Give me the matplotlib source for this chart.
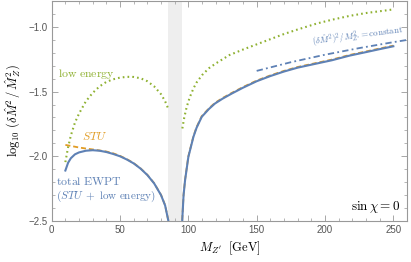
import numpy as np
import matplotlib
matplotlib.use("Agg")
import matplotlib.pyplot as plt
from matplotlib.ticker import MultipleLocator

plt.rcParams['font.family'] = ['Liberation Sans', 'DejaVu Sans']
plt.rcParams['mathtext.fontset'] = 'cm'

# values
# total EWPT (blue), two branches left/right of the Z pole
blue_x1 = [10, 12, 14, 17, 20, 25, 30, 35, 40, 45, 50, 55, 60, 65, 70, 75, 80, 83, 85.4, 86]
blue_y1 = [-2.11, -2.05, -2.015, -1.985, -1.97, -1.957, -1.953, -1.957, -1.967, -1.982,
           -2.0, -2.025, -2.055, -2.095, -2.145, -2.21, -2.3, -2.38, -2.5, -2.55]
blue_x2 = [95.3, 95.6, 96.5, 97.6, 100, 103.7, 106, 109.8, 115, 119.5, 125, 131.8, 140, 150,
           160, 170, 180, 194, 205, 218, 230, 240, 250]
blue_y2 = [-2.56, -2.48, -2.3, -2.185, -2.005, -1.85, -1.78, -1.695, -1.635, -1.592, -1.555,
           -1.515, -1.47, -1.42, -1.38, -1.345, -1.315, -1.283, -1.258, -1.222, -1.195,
           -1.172, -1.15]

# STU only (orange dashed)
stu_x1 = [10, 15, 20, 25, 30, 35, 40, 45, 50, 55, 60, 65, 70, 75, 80, 83, 85.4, 86]
stu_y1 = [-1.912, -1.922, -1.932, -1.94, -1.947, -1.955, -1.963, -1.977, -1.997, -2.022,
          -2.053, -2.093, -2.143, -2.208, -2.298, -2.378, -2.498, -2.548]
stu_x2 = blue_x2
stu_y2 = [-2.555, -2.475, -2.295, -2.18, -2.0, -1.845, -1.775, -1.69, -1.63, -1.587, -1.55,
          -1.51, -1.465, -1.415, -1.375, -1.34, -1.31, -1.278, -1.253, -1.217, -1.19,
          -1.167, -1.145]

# low energy (green dotted)
low_x1 = [10, 12, 14, 17, 20, 25, 30, 35, 40, 45, 50, 55, 60, 65, 70, 75, 80, 83, 85.4]
low_y1 = [-2.045, -1.93, -1.84, -1.74, -1.67, -1.575, -1.51, -1.46, -1.425, -1.405, -1.392,
          -1.386, -1.387, -1.397, -1.42, -1.46, -1.52, -1.575, -1.635]
low_x2 = [95.6, 97, 98.8, 101, 103.7, 106, 110, 115, 120, 130, 140, 150, 160, 170, 180, 194,
          205, 218, 230, 243, 250]
low_y2 = [-1.785, -1.70, -1.618, -1.545, -1.476, -1.43, -1.373, -1.32, -1.283, -1.218, -1.175,
          -1.135, -1.095, -1.055, -1.02, -0.974, -0.945, -0.915, -0.893, -0.875, -0.865]

# (dM^2)^2 / M_Z'^2 = constant guide
const_x = [150, 175, 200, 225, 250, 260]
const_y = [-1.34, -1.273, -1.215, -1.164, -1.118, -1.101]

band = (85.3, 95.5)

blue = '#5e81b5'
orange = '#e19c24'
green = '#8fb131'

fig = plt.figure(figsize=(4.11, 2.62), dpi=100)
ax = fig.add_axes([51.7 / 411, 1 - 221 / 262, 355.3 / 411, 220 / 262])

ax.axvspan(band[0], band[1], color='#eeeeee', lw=0, zorder=0)

for xs, ys in [(low_x1, low_y1), (low_x2, low_y2)]:
    ax.plot(xs, ys, color=green, lw=1.5, linestyle=(0, (0.8, 1.5)), zorder=2)
for xs, ys in [(stu_x1, stu_y1), (stu_x2, stu_y2)]:
    ax.plot(xs, ys, color=orange, lw=1.3, linestyle=(0, (2.8, 1.6)), zorder=3)
for xs, ys in [(blue_x1, blue_y1), (blue_x2, blue_y2)]:
    ax.plot(xs, ys, color=blue, lw=1.5, zorder=4)
ax.plot(const_x, const_y, color=blue, lw=1.3, linestyle=(0, (3.5, 1.8, 1, 1.8)), zorder=4)

ax.set_xlim(0, 260)
ax.set_ylim(-2.5, -0.8)
ax.set_yticks([-2.5, -2.0, -1.5, -1.0])
ax.set_xticks([0, 50, 100, 150, 200, 250])
ax.xaxis.set_minor_locator(MultipleLocator(10))
ax.yaxis.set_minor_locator(MultipleLocator(0.1))
ax.tick_params(which='both', direction='in', top=True, right=True, color='#999999',
               labelsize=7, labelcolor='#555555', pad=3)
ax.tick_params(which='major', length=4, width=0.6)
ax.tick_params(which='minor', length=2, width=0.5)
for s in ax.spines.values():
    s.set_color('#999999')
    s.set_linewidth(0.8)

ax.set_xlabel(r"$M_{Z'}\ \ [\mathrm{GeV}]$", fontsize=9, labelpad=3)
ax.set_ylabel(r"$\log_{10}\,(\delta\hat{M}^2\,/\,\hat{M}_Z^2)$", fontsize=9, labelpad=4)

ax.text(4.5, -1.365, r"$\mathrm{low\ energy}$", color=green, fontsize=8.5, va='center')
ax.text(22.5, -1.85, r"$STU$", color=orange, fontsize=8.5, va='center')
ax.text(3.5, -2.195, r"$\mathrm{total\ EWPT}$", color=blue, fontsize=8.5, va='center')
ax.text(3.5, -2.31, r"$(STU\;+\;\mathrm{low\ energy})$", color=blue, fontsize=8, va='center')
ax.text(255, -2.395, r"$\sin\chi = 0$", color='black', fontsize=9.5, ha='right', va='center')
ax.text(224, -1.078, r"$(\delta\hat{M}^2)^2/M_{Z'}^2 = \mathrm{constant}$", color=blue,
        fontsize=6.4, ha='center', va='center', rotation=7.5)

fig.savefig('out.png', dpi=100)
